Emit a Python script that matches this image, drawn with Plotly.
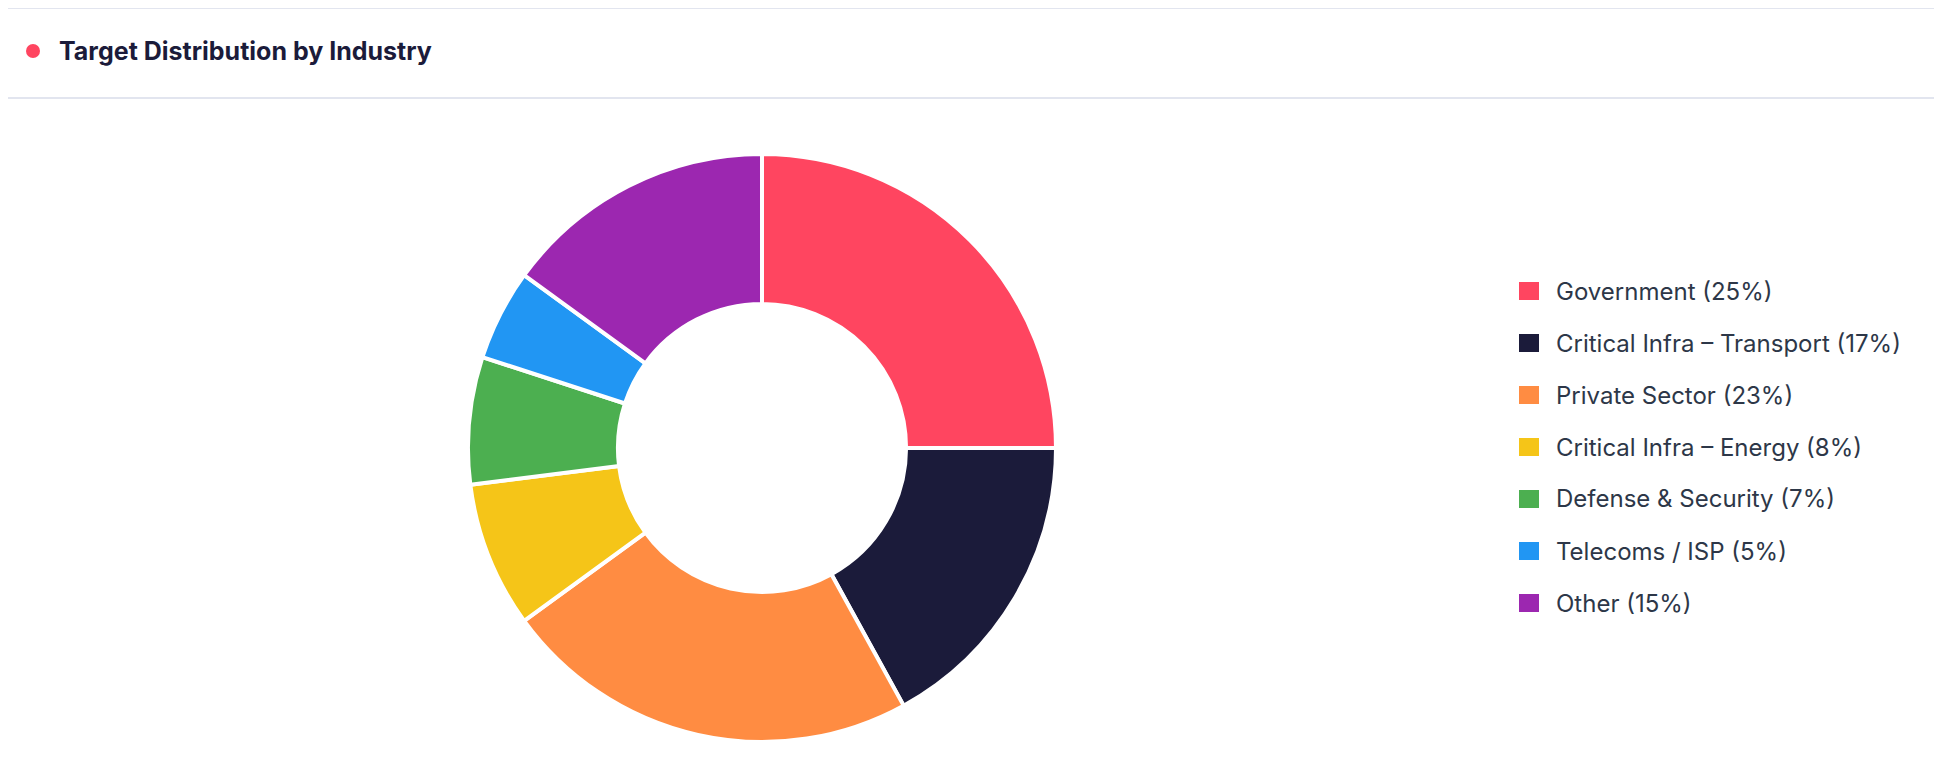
import plotly.graph_objects as go

# Datos
industrias = ["Government", "Critical Infra – Transport", "Private Sector",
              "Critical Infra – Energy", "Defense & Security", "Telecoms / ISP", "Other"]
porcentajes = [25, 17, 23, 8, 7, 5, 15]
colores = ["#FF4560", "#1B1B3A", "#FF8C42", "#F5C518", "#4CAF50", "#2196F3", "#9C27B0"]

W, H = 1942, 778
dx, dy = 8, 8  # compensar el margen de la página

fig = go.Figure()
fig.add_trace(go.Pie(
    labels=industrias, values=porcentajes, hole=0.49, sort=False,
    direction="clockwise", rotation=0, textinfo="none", showlegend=False,
    marker=dict(colors=colores, line=dict(color="white", width=4)),
    domain=dict(x=[(470 - dx - 2) / W, (1058 - dx - 2) / W],
                y=[1 - (742 - dy) / H, 1 - (154 - dy) / H]),
))

shapes = [
    dict(type="line", xref="paper", yref="paper", x0=-0.01, x1=1, y0=1, y1=1,
         line=dict(color="#E2E5EF", width=2)),
    dict(type="line", xref="paper", yref="paper", x0=-0.01, x1=1, y0=1 - (98 - dy) / H, y1=1 - (98 - dy) / H,
         line=dict(color="#E2E5EF", width=2)),
    dict(type="circle", xref="paper", yref="paper", x0=(26 - dx) / W, x1=(40 - dx) / W,
         y0=1 - (58 - dy) / H, y1=1 - (44 - dy) / H, fillcolor="#FF4560", line=dict(width=0)),
]
annotations = [dict(text="<b>Target Distribution by Industry</b>", xref="paper", yref="paper",
                    x=(57 - dx) / W, y=1 - (51 - dy) / H, xanchor="left", yanchor="middle", showarrow=False,
                    font=dict(family="Inter", size=25, color="#1B1B3A"))]

# Leyenda manual
for i, (nombre, pct, color) in enumerate(zip(industrias, porcentajes, colores)):
    yc = 291 - dy + i * 52
    shapes.append(dict(type="rect", xref="paper", yref="paper", x0=(1519 - dx) / W, x1=(1539 - dx) / W,
                       y0=1 - (yc + 9) / H, y1=1 - (yc - 9) / H, fillcolor=color, line=dict(width=0)))
    annotations.append(dict(text=f"{nombre} ({pct}%)", xref="paper", yref="paper",
                            x=(1554 - dx) / W, y=1 - yc / H, xanchor="left", yanchor="middle",
                            showarrow=False, font=dict(family="Inter", size=24, color="#2D3748")))

fig.update_layout(
    width=W, height=H, margin=dict(l=0, r=0, t=0, b=0),
    paper_bgcolor="white", plot_bgcolor="white",
    shapes=shapes, annotations=annotations,
)

fig.write_html("out.html")
